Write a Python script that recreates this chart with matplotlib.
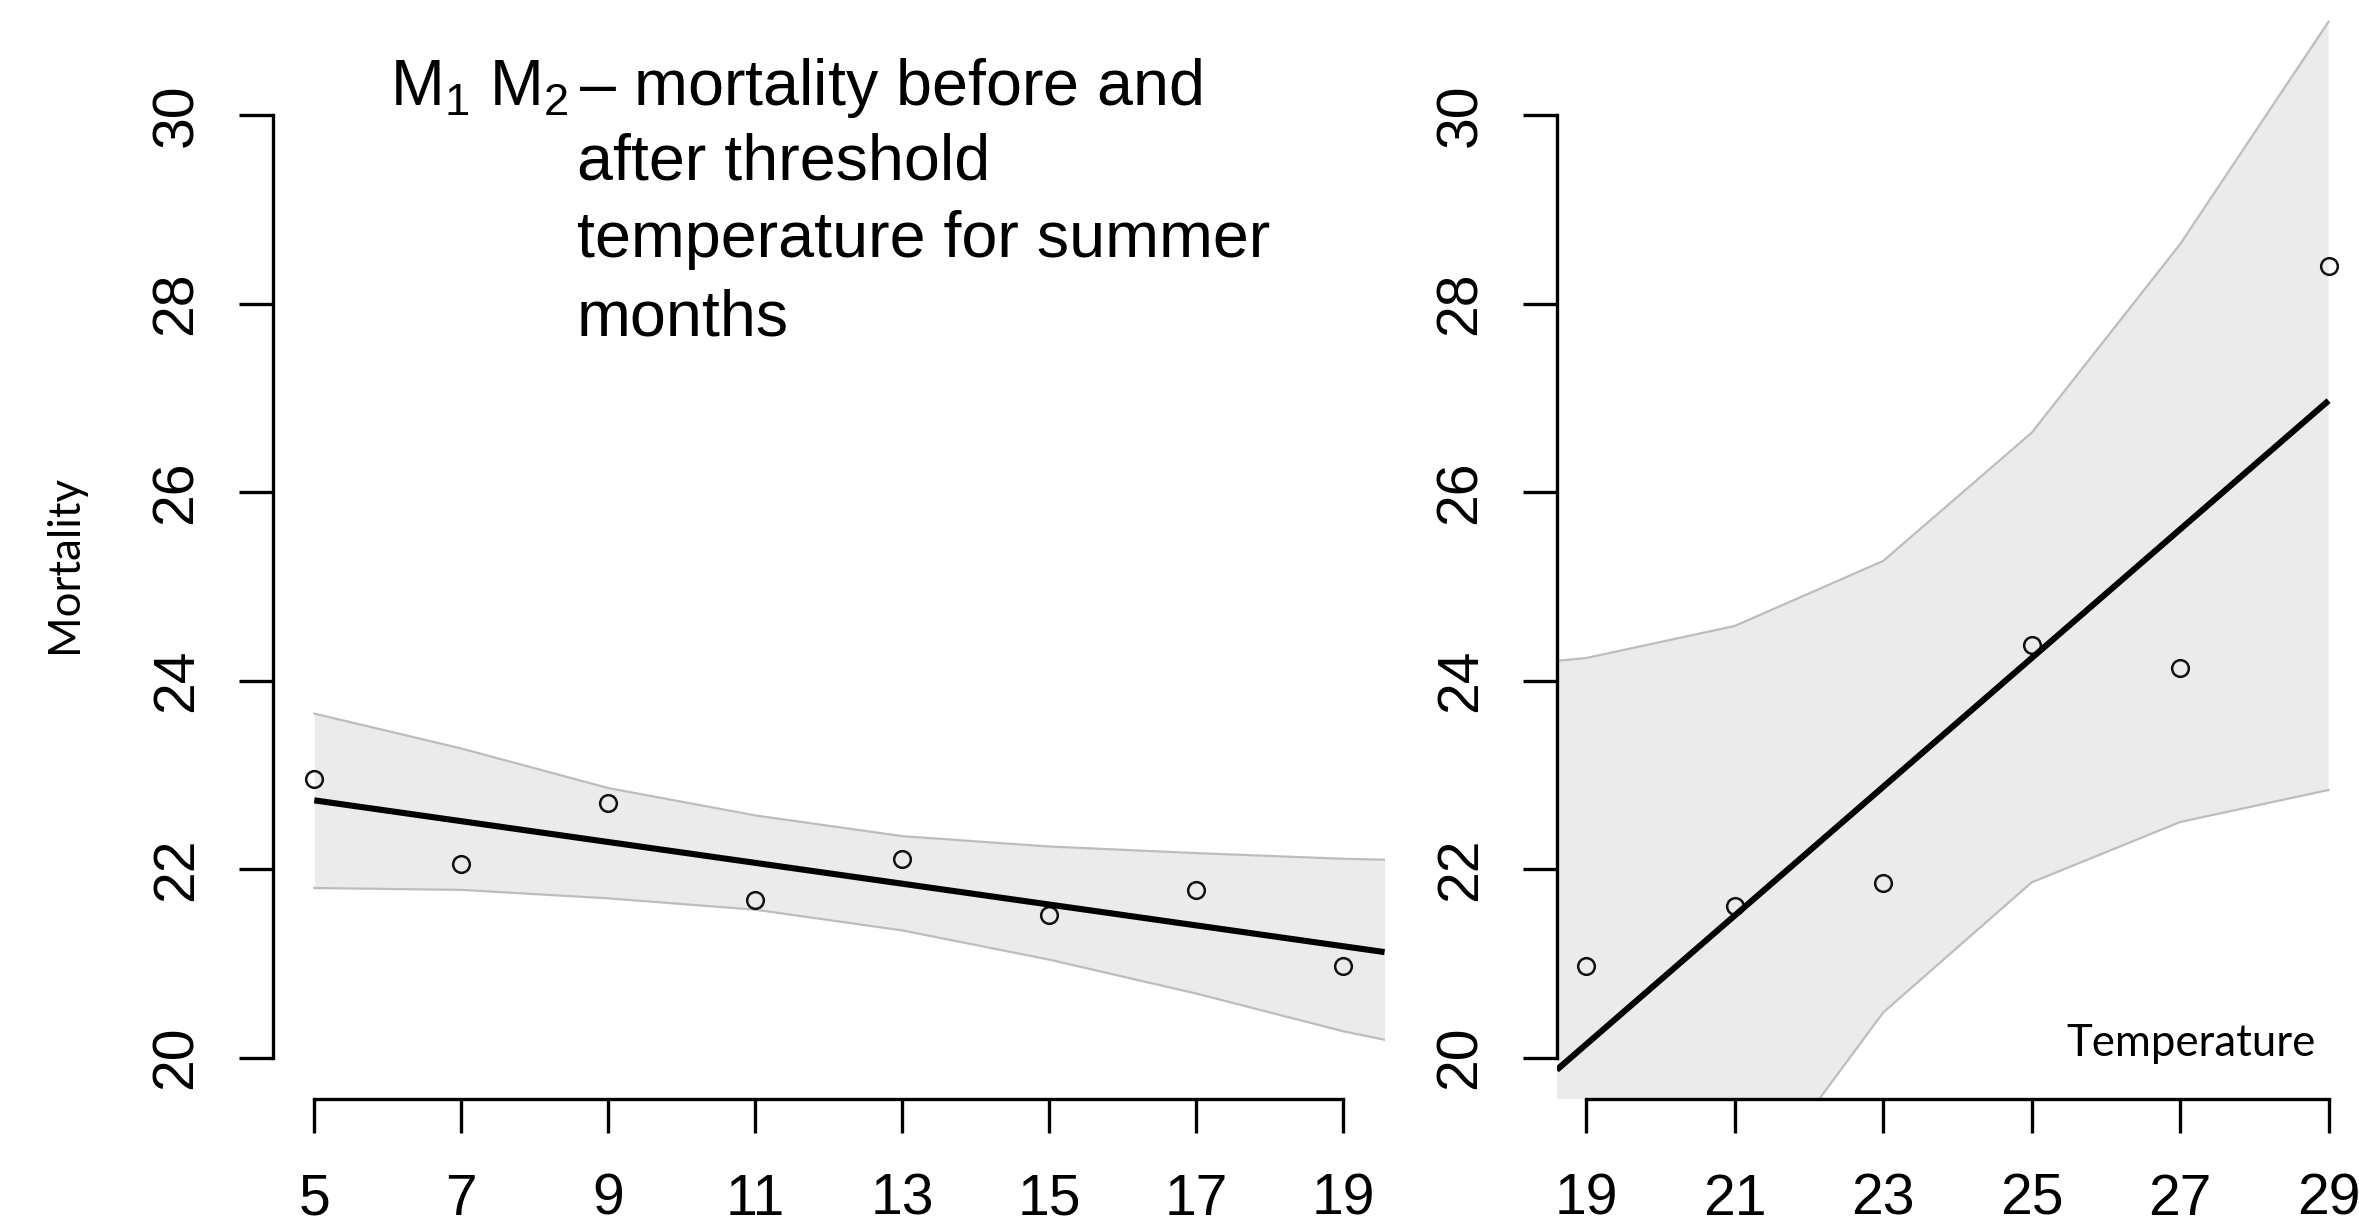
import matplotlib.pyplot as plt

plt.rcParams['font.family'] = ['Liberation Sans', 'DejaVu Sans']
plt.rcParams['mathtext.fontset'] = 'custom'
plt.rcParams['mathtext.rm'] = 'Liberation Sans'
plt.rcParams['mathtext.it'] = 'Liberation Sans:italic'
plt.rcParams['mathtext.bf'] = 'Liberation Sans:bold'

W, H = 2359, 1221

# left panel: below threshold temperature
left_temp = [5, 7, 9, 11, 13, 15, 17, 19]
left_mort = [22.96, 22.05, 22.70, 21.67, 22.11, 21.51, 21.78, 20.97]
left_band_x = [5, 7, 9, 11, 13, 15, 17, 19, 19.56]
left_upper = [23.65, 23.28, 22.86, 22.57, 22.35, 22.24, 22.17, 22.11, 22.10]
left_lower = [21.80, 21.78, 21.69, 21.57, 21.35, 21.04, 20.68, 20.28, 20.19]
left_fit_x = [5, 19.56]
left_fit_y = [22.73, 21.12]

# right panel: above threshold temperature
right_temp = [19, 21, 23, 25, 27, 29]
right_mort = [20.97, 21.61, 21.85, 24.38, 24.13, 28.40]
right_band_x = [18.6, 19, 21, 23, 25, 27, 29]
right_upper = [24.21, 24.24, 24.58, 25.27, 26.63, 28.63, 30.99]
right_lower = [17.60, 17.75, 18.35, 20.48, 21.86, 22.50, 22.84]
right_fit_x = [18.6, 29]
right_fit_y = [19.87, 26.97]

y_ticks = [20, 22, 24, 26, 28, 30]
left_xticks = [5, 7, 9, 11, 13, 15, 17, 19]
right_xticks = [19, 21, 23, 25, 27, 29]


def draw_panel(ax, xs, ys, bx, up, lo, fx, fy, xticks, xlim):
    ax.fill_between(bx, lo, up, color='#ebebeb', lw=0, zorder=1)
    ax.plot(bx, up, color='#bdbdbd', lw=1.6, zorder=1.5)
    ax.plot(bx, lo, color='#bdbdbd', lw=1.6, zorder=1.5)
    ax.plot(xs, ys, 'o', mfc='none', mec='#111111', ms=12, mew=1.8, zorder=2)
    ax.plot(fx, fy, color='black', lw=4.4, solid_capstyle='butt', zorder=3)

    ax.set_xlim(xlim)
    ax.set_ylim(19.567, 31.22)
    ax.patch.set_alpha(0)
    ax.spines['top'].set_visible(False)
    ax.spines['right'].set_visible(False)
    ax.spines['left'].set_bounds(20, 30)
    ax.spines['bottom'].set_bounds(xticks[0], xticks[-1])
    ax.spines['left'].set_linewidth(2.4)
    ax.spines['bottom'].set_linewidth(2.4)

    ax.set_xticks(xticks)
    ax.set_xticklabels([str(t) for t in xticks])
    ax.set_yticks(y_ticks)
    ax.set_yticklabels([str(t) for t in y_ticks], rotation=90, va='center')
    ax.tick_params(length=24.5, width=2.4, labelsize=41, direction='out')
    ax.tick_params(axis='x', pad=29)
    ax.tick_params(axis='y', pad=25)


fig = plt.figure(figsize=(W / 100, H / 100), dpi=100)

ax1 = fig.add_axes([272.7 / W, 122.5 / H, (1385 - 272.7) / W, 1098.5 / H])
ax2 = fig.add_axes([1556.7 / W, 122.5 / H, (W - 1556.7) / W, 1098.5 / H])

draw_panel(ax1, left_temp, left_mort, left_band_x, left_upper, left_lower,
           left_fit_x, left_fit_y, left_xticks, (4.434, 19.566))
draw_panel(ax2, right_temp, right_mort, right_band_x, right_upper, right_lower,
           right_fit_x, right_fit_y, right_xticks, (18.6, 29.41))

# annotation text
fig.text(390 / W, 1 - 105 / H, r"M$_1$ M$_2\,$– mortality before and",
         fontsize=46.5, ha='left', va='baseline')
fig.text(577 / W, 1 - 180 / H, "after threshold", fontsize=46.5, ha='left', va='baseline')
fig.text(577 / W, 1 - 257 / H, "temperature for summer", fontsize=46.5, ha='left', va='baseline')
fig.text(577 / W, 1 - 335 / H, "months", fontsize=46.5, ha='left', va='baseline')

fig.text(64.5 / W, 1 - 475 / H, "Mortality", family=['Lato', 'DejaVu Sans'],
         fontsize=31.5, rotation=90, ha='center', va='top')
fig.text(2066 / W, 1 - 1056 / H, "Temperature", family=['Lato', 'DejaVu Sans'],
         fontsize=31.5, ha='left', va='baseline')

fig.savefig('out.png', dpi=100, facecolor='white')
